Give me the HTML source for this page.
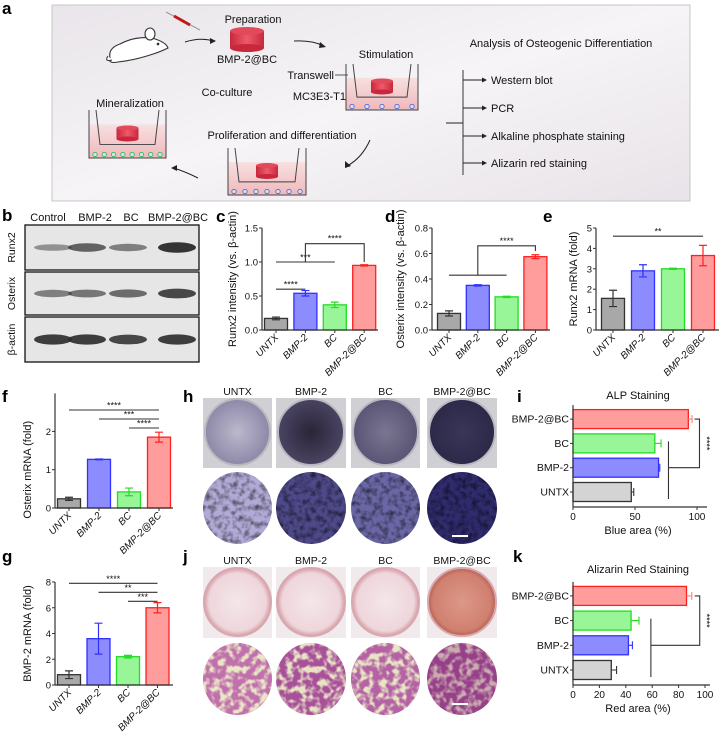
<!DOCTYPE html>
<html><head><meta charset="utf-8">
<style>
html,body{margin:0;padding:0;background:#fff;}
svg{display:block;font-family:"Liberation Sans",Arial,sans-serif;}
.pl{font-weight:bold;font-size:17px;}
.t{font-size:11px;fill:#111;}
</style></head>
<body>
<svg id="fig" width="721" height="737" viewBox="0 0 721 737" xmlns="http://www.w3.org/2000/svg">
<defs>
<linearGradient id="bgA" x1="0" y1="0" x2="1" y2="1"><stop offset="0" stop-color="#e9e5ea"/><stop offset="0.5" stop-color="#f6f4f6"/><stop offset="1" stop-color="#e8e3e8"/></linearGradient>
<linearGradient id="cyl" x1="0" y1="0" x2="1" y2="0"><stop offset="0" stop-color="#c8283c"/><stop offset="0.5" stop-color="#ee5a6a"/><stop offset="1" stop-color="#c8283c"/></linearGradient>
<linearGradient id="med" x1="0" y1="0" x2="0" y2="1"><stop offset="0" stop-color="#f7e0e0"/><stop offset="1" stop-color="#f0b8bc"/></linearGradient>
<radialGradient id="h1"><stop offset="0" stop-color="#bcb8cc"/><stop offset="1" stop-color="#8e88a8"/></radialGradient>
<radialGradient id="h2"><stop offset="0" stop-color="#2a2538"/><stop offset="1" stop-color="#4a4462"/></radialGradient>
<radialGradient id="h3"><stop offset="0" stop-color="#7a7590"/><stop offset="1" stop-color="#5a5575"/></radialGradient>
<radialGradient id="h4"><stop offset="0" stop-color="#3a3658"/><stop offset="1" stop-color="#2c2848"/></radialGradient>
<radialGradient id="j1"><stop offset="0" stop-color="#f4e6ea"/><stop offset="0.85" stop-color="#eed6dc"/><stop offset="1" stop-color="#d89ca4"/></radialGradient>
<radialGradient id="j4"><stop offset="0" stop-color="#dc9888"/><stop offset="0.85" stop-color="#d08070"/><stop offset="1" stop-color="#b86050"/></radialGradient>
<filter id="tex" x="0" y="0" width="1" height="1"><feTurbulence type="fractalNoise" baseFrequency="0.18" numOctaves="2" seed="3"/><feColorMatrix type="matrix" values="0 0 0 0 0  0 0 0 0 0  0 0 0 0 0  0 0 0 -2.2 1.3"/><feComposite in2="SourceGraphic" operator="in"/></filter>
<filter id="tex2" x="0" y="0" width="1" height="1"><feTurbulence type="fractalNoise" baseFrequency="0.15" numOctaves="2" seed="7"/><feColorMatrix type="matrix" values="0 0 0 0 0.86  0 0 0 0 0.9  0 0 0 0 0.58  0 0 0 4 -1.7"/><feComposite in2="SourceGraphic" operator="in"/></filter>
</defs>

<!-- Panel a -->
<g>
<text class="pl" x="2" y="14">a</text>
<rect x="52" y="5" width="638" height="196" fill="url(#bgA)" stroke="#c8c4c8"/>
<g fill="#fff" stroke="#333" stroke-width="1.1">
<path d="M110 58 Q108 48 120 44 Q135 36 152 38 Q166 42 168 48 Q160 52 150 55 Q135 60 118 62 Q108 64 110 58 Z"/>
<ellipse cx="150" cy="34" rx="5" ry="6"/>
<path d="M112 60 Q104 62 108 56"/>
<circle cx="158" cy="44" r="0.8" fill="#333"/>
</g>
<g>
<line x1="166" y1="12" x2="200" y2="30" stroke="#999" stroke-width="1"/>
<line x1="174" y1="16" x2="190" y2="25" stroke="#c01818" stroke-width="3"/>
</g>
<text class="t" x="253" y="23" text-anchor="middle">Preparation</text>
<g><rect x="230" y="31" width="34" height="17" fill="url(#cyl)"/><ellipse cx="247" cy="48" rx="17" ry="4" fill="#c8283c"/><ellipse cx="247" cy="31" rx="17" ry="4" fill="#e04a5a"/></g>
<text class="t" x="247" y="63" text-anchor="middle">BMP-2@BC</text>
<path d="M185 42 Q200 37 214 41" fill="none" stroke="#222"/><path d="M210 38 L216 41 L210 44 Z" fill="#222"/>
<path d="M294 41 Q312 40 324 46" fill="none" stroke="#222"/><path d="M320 42 L326 47 L319 48 Z" fill="#222"/>
<text class="t" x="386" y="58" text-anchor="middle">Stimulation</text>
<text class="t" x="334" y="79" text-anchor="end">Transwell</text>
<line x1="335" y1="75" x2="348" y2="75" stroke="#333" stroke-width="0.8"/>
<text class="t" x="346" y="100" text-anchor="end">MC3E3-T1</text>
<line x1="346" y1="100" x2="353" y2="105" stroke="#333" stroke-width="0.8"/>
<text class="t" x="227" y="96" text-anchor="middle">Co-culture</text>
<text class="t" x="130" y="107" text-anchor="middle">Mineralization</text>
<text class="t" x="282" y="139" text-anchor="middle">Proliferation and differentiation</text>
<g id="wells"></g>
<path d="M370 140 Q362 158 347 166" fill="none" stroke="#222"/><path d="M345 161 L345 168 L351 166 Z" fill="#222"/>
<path d="M198 178 Q186 172 174 168" fill="none" stroke="#222"/><path d="M177 165 L171 168 L177 171 Z" fill="#222"/>
<text class="t" x="561" y="47" text-anchor="middle">Analysis of Osteogenic Differentiation</text>
<g stroke="#222" stroke-width="0.9">
<line x1="463" y1="70" x2="463" y2="175"/><line x1="446" y1="123" x2="463" y2="123"/>
<line x1="463" y1="80" x2="484" y2="80"/><line x1="463" y1="108" x2="484" y2="108"/><line x1="463" y1="136" x2="484" y2="136"/><line x1="463" y1="163" x2="484" y2="163"/>
</g>
<g fill="#222"><path d="M482 77.5 L487 80 L482 82.5Z"/><path d="M482 105.5 L487 108 L482 110.5Z"/><path d="M482 133.5 L487 136 L482 138.5Z"/><path d="M482 160.5 L487 163 L482 165.5Z"/></g>
<text class="t" x="491" y="84">Western blot</text>
<text class="t" x="491" y="112">PCR</text>
<text class="t" x="491" y="140">Alkaline phosphate staining</text>
<text class="t" x="491" y="167">Alizarin red staining</text>
</g>

<!-- Panel b -->
<g>
<text class="pl" x="2" y="221">b</text>
<g class="t" text-anchor="middle" font-size="10.5">
<text x="48" y="221">Control</text>
<text x="95" y="221">BMP-2</text>
<text x="131" y="221">BC</text>
<text x="178" y="221">BMP-2@BC</text>
</g>
<g id="blots"></g>
</g>

<g id="charts"></g>
<g id="photos"></g>
</svg>

<script>
// ---------- data ----------
var groups = ["UNTX","BMP-2","BC","BMP-2@BC"];
var fills = ["#a8a8a8","#8c8cff","#98f598","#ff9c9c"];
var strokes = ["#333333","#3030ff","#22dd22","#ff2020"];
var hFills = ["#d4d4d4","#8c8cff","#98f598","#ff9c9c"];

var cVals = [0.17,0.54,0.37,0.95];
var cErrs = [0.02,0.04,0.04,0.01];
var cTicks = [0,0.5,1.0,1.5];
var cTickLabels = ["0.0","0.5","1.0","1.5"];

var dVals = [0.13,0.35,0.26,0.575];
var dErrs = [0.02,0.005,0.005,0.015];
var dTicks = [0,0.2,0.4,0.6,0.8];
var dTickLabels = ["0.0","0.2","0.4","0.6","0.8"];

var eVals = [1.55,2.9,3.0,3.65];
var eErrs = [0.4,0.3,0.03,0.5];
var eTicks = [0,1,2,3,4,5];

var fVals = [0.24,1.27,0.42,1.85];
var fErrs = [0.04,0.01,0.1,0.13];
var fTicks = [0,1,2];

var gVals = [0.8,3.6,2.2,6.0];
var gErrs = [0.3,1.2,0.1,0.4];
var gTicks = [0,2,4,6,8];

var iVals = [47,69,66,93];   // UNTX, BMP-2, BC, BMP-2@BC
var iErrs = [2,1,5,3];
var iTicks = [0,50,100];

var kVals = [29,42,44,86];
var kErrs = [4,3,6,4];
var kTicks = [0,20,40,60,80,100];

var blotRows = ["Runx2","Osterix","β-actin"];
var runx2Bands = [0.45,0.7,0.55,0.95];
var osterixBands = [0.55,0.6,0.65,0.85];
var actinBands = [0.9,0.9,0.85,0.9];

var NS="http://www.w3.org/2000/svg";
function el(tag, attrs, parent){var e=document.createElementNS(NS,tag);for(var k in attrs)e.setAttribute(k,attrs[k]);if(parent)parent.appendChild(e);return e;}
function txt(parent,x,y,s,size,anchor,extra){var t=el("text",{x:x,y:y,"font-size":size,"text-anchor":anchor||"start",fill:"#111"},parent);t.textContent=s;if(extra)for(var k in extra)t.setAttribute(k,extra[k]);return t;}

// ---------- wells in panel a ----------
(function(){
  var W=document.getElementById("wells");
  function well(x,y,w,h,cells,cellColor,name){
    var g=el("g",{},W);
    
    
    el("rect",{x:x,y:y+h*0.3,width:w,height:h*0.7,fill:"url(#med)"},g);
    el("path",{d:"M"+x+" "+y+" L"+x+" "+(y+h)+" L"+(x+w)+" "+(y+h)+" L"+(x+w)+" "+y,fill:"none",stroke:"#444","stroke-width":1},g);
    el("path",{d:"M"+(x+7)+" "+y+" L"+(x+11)+" "+(y+h*0.72)+" L"+(x+w-11)+" "+(y+h*0.72)+" L"+(x+w-7)+" "+y,fill:"none",stroke:"#444","stroke-width":1},g);
    el("line",{x1:x+11,y1:y+h*0.72,x2:x+w-11,y2:y+h*0.72,stroke:"#555","stroke-dasharray":"1.5 1"},g);
    var cx=x+w/2,cy=y+h*0.5;
    el("rect",{x:cx-11,y:cy-6,width:22,height:11,fill:"url(#cyl)"},g);
    el("ellipse",{cx:cx,cy:cy+5,rx:11,ry:2.5,fill:"#c8283c"},g);
    el("ellipse",{cx:cx,cy:cy-6,rx:11,ry:2.5,fill:"#e04a5a"},g);
    for(var i=0;i<cells;i++){el("circle",{cx:x+6+i*(w-12)/(cells-1),cy:y+h-3.5,r:2.2,fill:"#dde",stroke:cellColor,"stroke-width":0.8},g);}
  }
  well(346,64,72,46,5,"#4466cc","stimulation-well");
  well(89,110,77,48,8,"#22bb55","mineralization-well");
  well(228,148,78,47,7,"#4466cc","proliferation-well");
})();

// ---------- blots ----------
(function(){
  var B=document.getElementById("blots");
  var rowsY=[[225,45],[272,43],[317,45]];
  var bandX=[53,87,128,177];
  var bandData=[runx2Bands,osterixBands,actinBands];
  for(var r=0;r<3;r++){
    var g=el("g",{},B);
    
    
    el("rect",{x:25,y:rowsY[r][0],width:174,height:rowsY[r][1],fill:"#e6e6e6",stroke:"#111","stroke-width":1.3},g);
    for(var i=0;i<4;i++){
      var v=bandData[r][i];
      var b=el("ellipse",{cx:bandX[i],cy:rowsY[r][0]+rowsY[r][1]/2,rx:19,ry:1.5+v*4,fill:"#2a2a2a","fill-opacity":v},g);
      
      
    }
    txt(g,0,0,blotRows[r],10.5,"middle",{transform:"translate(15,"+(rowsY[r][0]+rowsY[r][1]/2)+") rotate(-90)"});
  }
})();

// ---------- charts ----------
var C=document.getElementById("charts");
function vbar(o){
  var g=el("g",{},C);
  
  
  var lab=el("text",{x:o.lx,y:o.ly,"class":"pl"},g);lab.textContent=o.letter;
  
  
  function Y(v){return o.y0-v/o.vmax*(o.y0-o.ytop);}
  function X(i){return o.c0+i*o.dx;}
  for(var i=0;i<o.vals.length;i++){
    var top=Y(o.vals[i]);
    var r=el("rect",{x:X(i)-o.w/2,y:top,width:o.w,height:o.y0-top,fill:fills[i],stroke:strokes[i],"stroke-width":1.3},g);
    
    
    var e1=Y(o.vals[i]+o.errs[i]),e2=Y(o.vals[i]-o.errs[i]);
    el("path",{d:"M"+X(i)+" "+e1+" L"+X(i)+" "+e2+" M"+(X(i)-4)+" "+e1+" L"+(X(i)+4)+" "+e1+" M"+(X(i)-4)+" "+e2+" L"+(X(i)+4)+" "+e2,stroke:strokes[i],"stroke-width":1.2,fill:"none"},g);
    el("line",{x1:X(i),y1:o.y0,x2:X(i),y2:o.y0+3,stroke:"#333"},g);
    var t=txt(g,0,0,groups[i],10,"end",{transform:"translate("+(X(i)+3)+","+(o.y0+8)+") rotate(-45)","font-style":"italic"});
    
    
  }
  el("line",{x1:o.ax,y1:o.y0,x2:o.ax,y2:o.ytop-(o.extra||0),stroke:"#333","stroke-width":1.2},g);
  el("line",{x1:o.ax,y1:o.y0,x2:o.xend,y2:o.y0,stroke:"#333","stroke-width":1.2},g);
  for(var k=0;k<o.ticks.length;k++){
    var ty=Y(o.ticks[k]);
    el("line",{x1:o.ax-3,y1:ty,x2:o.ax,y2:ty,stroke:"#333"},g);
    var tl=txt(g,o.ax-4,ty+3.5,o.tickLabels?o.tickLabels[k]:String(o.ticks[k]),9.5,"end");
    
    
  }
  var tt=txt(g,0,0,o.title,11,"middle",{transform:"translate("+o.tx+","+((o.y0+o.ytop)/2)+") rotate(-90)"});
  
  
  return {g:g,Y:Y,X:X};
}
function sig(g,x1,x2,y,label){
  el("line",{x1:x1,y1:y,x2:x2,y2:y,stroke:"#333","stroke-width":1.1},g);
  var t=txt(g,(x1+x2)/2,y-1.5,label,9,"middle");
  
  
}

var c=vbar({name:"chart-c-runx2-intensity",letter:"c",lx:216,ly:222,ax:262,y0:330,ytop:228,vmax:1.5,ticks:cTicks,tickLabels:cTickLabels,c0:276,dx:29.4,w:23,vals:cVals,errs:cErrs,xend:378,title:"Runx2 intensity (vs. β-actin)",tx:236,extra:0});
sig(c.g,c.X(0),c.X(1),c.Y(0.6),"****");
sig(c.g,c.X(0),c.X(2),c.Y(1.0),"***");
el("path",{d:"M"+c.X(1)+" "+c.Y(1.0)+" L"+c.X(1)+" "+c.Y(1.27)+" L"+c.X(3)+" "+c.Y(1.27)+" L"+c.X(3)+" "+c.Y(1.0),fill:"none",stroke:"#333","stroke-width":1.1},c.g);
txt(c.g,(c.X(1)+c.X(3))/2,c.Y(1.27)-2,"****",9,"middle");

var d=vbar({name:"chart-d-osterix-intensity",letter:"d",lx:385,ly:222,ax:432,y0:330,ytop:228,vmax:0.8,ticks:dTicks,tickLabels:dTickLabels,c0:449,dx:28.8,w:23,vals:dVals,errs:dErrs,xend:550,title:"Osterix intensity (vs. β-actin)",tx:404});
el("line",{x1:d.X(0),y1:d.Y(0.43),x2:d.X(2),y2:d.Y(0.43),stroke:"#333","stroke-width":1.1},d.g);
el("path",{d:"M"+(d.X(0)+d.X(2))/2+" "+d.Y(0.43)+" L"+(d.X(0)+d.X(2))/2+" "+d.Y(0.66)+" L"+d.X(3)+" "+d.Y(0.66)+" L"+d.X(3)+" "+d.Y(0.62),fill:"none",stroke:"#333","stroke-width":1.1},d.g);
txt(d.g,((d.X(0)+d.X(2))/2+d.X(3))/2,d.Y(0.66)-2,"****",9,"middle");

var e=vbar({name:"chart-e-runx2-mrna",letter:"e",lx:543,ly:222,ax:596,y0:330,ytop:228,vmax:5,ticks:eTicks,c0:613,dx:30,w:23,vals:eVals,errs:eErrs,xend:719,title:"Runx2 mRNA (fold)",tx:577});
sig(e.g,e.X(0),e.X(3),e.Y(4.6),"**");

var f=vbar({name:"chart-f-osterix-mrna",letter:"f",lx:2,ly:402,ax:55,y0:508,ytop:431.4,vmax:2,ticks:fTicks,c0:69,dx:30,w:23,vals:fVals,errs:fErrs,xend:173,title:"Osterix mRNA (fold)",tx:31,extra:38});
sig(f.g,f.X(0),f.X(3),410,"****");
sig(f.g,f.X(1),f.X(3),419,"***");
sig(f.g,f.X(2),f.X(3),428,"****");

var gg=vbar({name:"chart-g-bmp2-mrna",letter:"g",lx:2,ly:562,ax:55,y0:685,ytop:582,vmax:8,ticks:gTicks,c0:69,dx:29.5,w:23,vals:gVals,errs:gErrs,xend:173,title:"BMP-2 mRNA (fold)",tx:31});
sig(gg.g,gg.X(0),gg.X(3),gg.Y(7.9),"****");
sig(gg.g,gg.X(1),gg.X(3),gg.Y(7.2),"**");
sig(gg.g,gg.X(2),gg.X(3),gg.Y(6.5),"***");

function hbar(o){
  var g=el("g",{},C);
  
  
  var lab=el("text",{x:o.lx,y:o.ly,"class":"pl"},g);lab.textContent=o.letter;
  
  
  function X(v){return o.ax+v/o.vmax*(o.xmax-o.ax);}
  function Y(i){return o.yb-i*o.dy;}
  var tt=txt(g,638,o.titleY,o.title,11,"middle");
  
  
  for(var i=0;i<o.vals.length;i++){
    var r=el("rect",{x:o.ax,y:Y(i)-9.5,width:X(o.vals[i])-o.ax,height:19,fill:hFills[i],stroke:strokes[i],"stroke-width":1.3},g);
    
    
    var a=X(o.vals[i]),b=X(o.vals[i]+o.errs[i]);
    el("path",{d:"M"+a+" "+Y(i)+" L"+b+" "+Y(i)+" M"+b+" "+(Y(i)-4)+" L"+b+" "+(Y(i)+4),stroke:i==3?"#ff8080":strokes[i],"stroke-width":1.1,fill:"none"},g);
    el("line",{x1:o.ax-3,y1:Y(i),x2:o.ax,y2:Y(i),stroke:"#333"},g);
    var t=txt(g,o.ax-4,Y(i)+3.5,groups[i],10.5,"end");
    
    
  }
  el("line",{x1:o.ax,y1:Y(3)-14,x2:o.ax,y2:o.y0,stroke:"#333","stroke-width":1.2},g);
  el("line",{x1:o.ax,y1:o.y0,x2:o.xend,y2:o.y0,stroke:"#333","stroke-width":1.2},g);
  for(var k=0;k<o.ticks.length;k++){
    var tx=X(o.ticks[k]);
    el("line",{x1:tx,y1:o.y0,x2:tx,y2:o.y0+3,stroke:"#333"},g);
    var tl=txt(g,tx,o.y0+13,String(o.ticks[k]),10,"middle");
    
    
  }
  var xt=txt(g,638,o.y0+27,o.xtitle,11,"middle");
  
  
  var bx=X(o.brX), rx=X(o.brR);
  el("path",{d:"M"+bx+" "+(Y(2)-2)+" L"+bx+" "+(Y(0)+7)+" M"+bx+" "+Y(1)+" L"+rx+" "+Y(1)+" L"+rx+" "+Y(3)+" L"+(rx-5)+" "+Y(3),fill:"none",stroke:"#333","stroke-width":1.1},g);
  txt(g,0,0,"****",9,"middle",{transform:"translate("+(rx+4)+","+((Y(1)+Y(3))/2)+") rotate(90)"});
}
hbar({name:"chart-i-alp",letter:"i",lx:517,ly:402,ax:573,xmax:697,vmax:100,yb:492,dy:24.3,y0:507,ticks:iTicks,vals:iVals,errs:iErrs,xend:707,title:"ALP Staining",titleY:399,xtitle:"Blue area (%)",brX:77,brR:102});
hbar({name:"chart-k-alizarin",letter:"k",lx:513,ly:562,ax:573,xmax:705,vmax:100,yb:670,dy:24.7,y0:685,ticks:kTicks,vals:kVals,errs:kErrs,xend:710,title:"Alizarin Red Staining",titleY:573,xtitle:"Red area (%)",brX:59,brR:96});

// ---------- photos ----------
(function(){
  var P=document.getElementById("photos");
  var cols=[[203,272],[276,346],[351,420],[427,497]];
  var hTop=["url(#h1)","url(#h2)","url(#h3)","url(#h4)"];
  var hBot=["#b2aad6","#4e4988","#6b67a6","#2f2b6c"];
  var jTop=["url(#j1)","url(#j1)","url(#j1)","url(#j4)"];
  var jBot=["#c070ac","#a8509a","#b462a4","#96408a"];
  var l1=el("text",{x:183,y:402,"class":"pl"},P);l1.textContent="h";
  
  
  var l2=el("text",{x:183,y:562,"class":"pl"},P);l2.textContent="j";
  
  
  for(var i=0;i<4;i++){
    var x0=cols[i][0],x1=cols[i][1],cx=(x0+x1)/2,w=x1-x0;
    var g1=el("g",{},P);
    
    
    el("rect",{x:x0,y:398,width:w,height:70,fill:"#d0d0d4"},g1);
    el("ellipse",{cx:cx,cy:432,rx:w/2-2,ry:33,fill:hTop[i],stroke:"#b8b8c0","stroke-width":2},g1);
    var h1=txt(P,cx,395,groups[i],10.5,"middle");
    
    
    var g2=el("g",{},P);
    
    
    el("ellipse",{cx:cx,cy:508,rx:w/2,ry:36,fill:hBot[i]},g2);
    el("ellipse",{cx:cx,cy:508,rx:w/2,ry:36,fill:"#1a1840",filter:"url(#tex)",opacity:0.55},g2);
    var g3=el("g",{},P);
    
    
    el("rect",{x:x0,y:567,width:w,height:71,fill:"#f0eaec"},g3);
    el("ellipse",{cx:cx,cy:602,rx:w/2-1,ry:34,fill:jTop[i],stroke:"#d8a8b0","stroke-width":2},g3);
    var h2=txt(P,cx,564,groups[i],10.5,"middle");
    
    
    var g4=el("g",{},P);
    
    
    el("ellipse",{cx:cx,cy:679,rx:w/2,ry:36,fill:jBot[i]},g4);
    el("ellipse",{cx:cx,cy:679,rx:w/2,ry:36,fill:"#dde89a",filter:"url(#tex2)",opacity:i==3?0.6:0.9},g4);
  }
  var s1=el("line",{x1:452,y1:536,x2:468,y2:536,stroke:"#fff","stroke-width":2},P);
  
  
  var s2=el("line",{x1:452,y1:704,x2:468,y2:704,stroke:"#fff","stroke-width":2},P);
  
  
})();
</script>
</body></html>
